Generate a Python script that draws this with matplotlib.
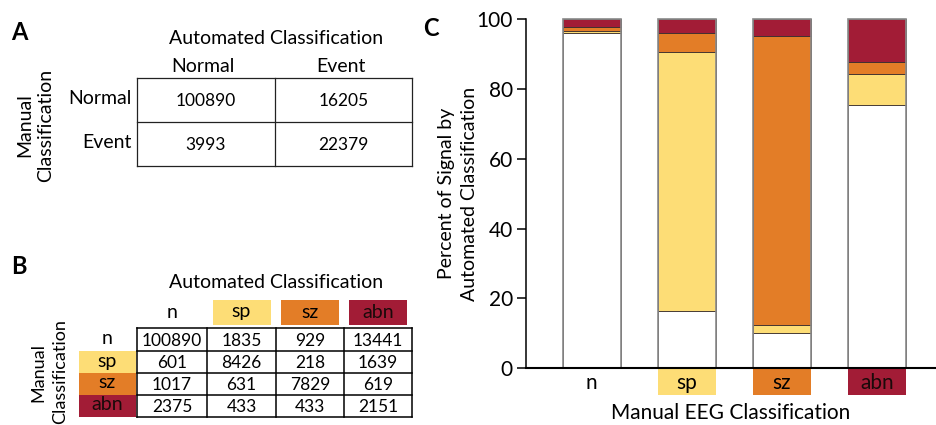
import matplotlib
matplotlib.use('Agg')
import matplotlib.pyplot as plt
from matplotlib.patches import Rectangle
import matplotlib.transforms as mtransforms

plt.rcParams['font.family'] = ['Lato', 'DejaVu Sans']

# Panel A: 2x2 confusion table
a_labels = ['Normal', 'Event']
a_counts = [[100890, 16205],
            [3993, 22379]]

# Panel B: 4x4 confusion table
b_labels = ['n', 'sp', 'sz', 'abn']
b_counts = [[100890, 1835, 929, 13441],
            [601, 8426, 218, 1639],
            [1017, 631, 7829, 619],
            [2375, 433, 433, 2151]]

# Panel C: percent of signal per manual class (stack: n, sp, sz, abn)
c_classes = ['n', 'sp', 'sz', 'abn']
pct_n = [96.1, 16.3, 10.0, 75.3]
pct_sp = [0.6, 74.2, 2.4, 8.9]
pct_sz = [1.0, 5.5, 82.8, 3.6]
pct_abn = [2.3, 4.0, 4.8, 12.2]

colors = {'n': 'white', 'sp': '#FDDD76', 'sz': '#E37D27', 'abn': '#A21C36'}
text_col = {'n': 'black', 'sp': 'black', 'sz': 'black', 'abn': '#1a0a0a'}

fig = plt.figure(figsize=(9.36, 4.25), dpi=100)

# overlay axes in pixel coordinates for the tables
ov = fig.add_axes([0, 0, 1, 1])
ov.set_xlim(0, 936)
ov.set_ylim(425, 0)
ov.axis('off')

# ---- Panel A ----
ov.text(11, 32, 'A', fontsize=17, fontweight='bold', va='center', ha='left')
ov.text(276, 38, 'Automated Classification', fontsize=14, ha='center', va='center')
ax_x = [137, 275, 412]
ax_y = [78, 122, 166]
for j, lab in enumerate(a_labels):
    ov.text((ax_x[j] + ax_x[j + 1]) / 2 - 3, 66, lab, fontsize=14, ha='center', va='center')
for i, lab in enumerate(a_labels):
    ov.text(132, (ax_y[i] + ax_y[i + 1]) / 2 - 2, lab, fontsize=14, ha='right', va='center')
    for j in range(2):
        ov.text((ax_x[j] + ax_x[j + 1]) / 2, (ax_y[i] + ax_y[i + 1]) / 2 + 1,
                str(a_counts[i][j]), fontsize=12.5, ha='center', va='center')
for x in ax_x:
    ov.plot([x, x], [ax_y[0], ax_y[-1]], color='#222222', lw=0.9)
for y in ax_y:
    ov.plot([ax_x[0], ax_x[-1]], [y, y], color='#222222', lw=0.9)
ov.text(35, 125, 'Manual\nClassification', fontsize=14, rotation=90,
        ha='center', va='center', linespacing=1.3)

# ---- Panel B ----
ov.text(11, 267, 'B', fontsize=17, fontweight='bold', va='center', ha='left')
ov.text(276, 283, 'Automated Classification', fontsize=14, ha='center', va='center')
bx = [137, 207, 276, 344, 412]
by = [328, 351, 373, 395, 417]
for j, lab in enumerate(b_labels):
    cx = (bx[j] + bx[j + 1]) / 2
    if lab != 'n':
        ov.add_patch(Rectangle((cx - 29, 300), 58, 25, color=colors[lab], lw=0))
    ov.text(cx, 312, lab, fontsize=14, ha='center', va='center', color=text_col[lab])
for i, lab in enumerate(b_labels):
    cy = (by[i] + by[i + 1]) / 2
    if lab != 'n':
        ov.add_patch(Rectangle((79, by[i]), 57, by[i + 1] - by[i], color=colors[lab], lw=0))
    ov.text(107, cy - 1, lab, fontsize=14, ha='center', va='center', color=text_col[lab])
    for j in range(4):
        ov.text((bx[j] + bx[j + 1]) / 2, cy + 1, str(b_counts[i][j]),
                fontsize=12.5, ha='center', va='center')
for x in bx:
    ov.plot([x, x], [by[0], by[-1]], color='black', lw=1.1)
for y in by:
    ov.plot([bx[0], bx[-1]], [y, y], color='black', lw=1.1)
ov.text(49, 372, 'Manual\nClassification', fontsize=13, rotation=90,
        ha='center', va='center', linespacing=1.45)

# ---- Panel C ----
ax = fig.add_axes([526 / 936, 57 / 425, 410 / 936, 348.7 / 425])
xs = list(range(len(c_classes)))
width = 0.61
bottom = [0.0] * 4
for key, vals in [('n', pct_n), ('sp', pct_sp), ('sz', pct_sz), ('abn', pct_abn)]:
    ax.bar(xs, vals, width, bottom=bottom, color=colors[key],
           edgecolor='#3a3030', linewidth=0.6, clip_on=False, zorder=2)
    bottom = [b + v for b, v in zip(bottom, vals)]
ax.bar(xs, bottom, width, fill=False, edgecolor='#8a8a8a', linewidth=1.2,
       clip_on=False, zorder=3)

ax.set_xlim(-0.69, 3.62)
ax.set_ylim(0, 100)
ax.set_yticks([0, 20, 40, 60, 80, 100])
ax.tick_params(axis='y', labelsize=15, length=6.5, width=1.1, pad=3)
ax.set_xticks([])
for s in ['top', 'right']:
    ax.spines[s].set_visible(False)
ax.spines['left'].set_linewidth(1.1)
ax.spines['bottom'].set_linewidth(1.5)
ax.spines['bottom'].set_zorder(4)

trans = mtransforms.blended_transform_factory(ax.transData, ax.transAxes)
for x, lab in zip(xs, c_classes):
    if lab != 'n':
        ax.add_patch(Rectangle((x - width / 2, -0.0785), width, 0.0785,
                               transform=trans, color=colors[lab], lw=0, clip_on=False))
    ax.text(x, -0.042, lab, transform=trans, fontsize=15, ha='center',
            va='center', color=text_col[lab])

ax.set_ylabel('Percent of Signal by\nAutomated Classification', fontsize=14,
              linespacing=1.4, labelpad=-1)
ax.set_xlabel('Manual EEG Classification', fontsize=15, labelpad=25)
fig.text(423 / 936, 1 - 28 / 425, 'C', fontsize=17, fontweight='bold',
         ha='left', va='center')

fig.savefig('out.png', dpi=100)
